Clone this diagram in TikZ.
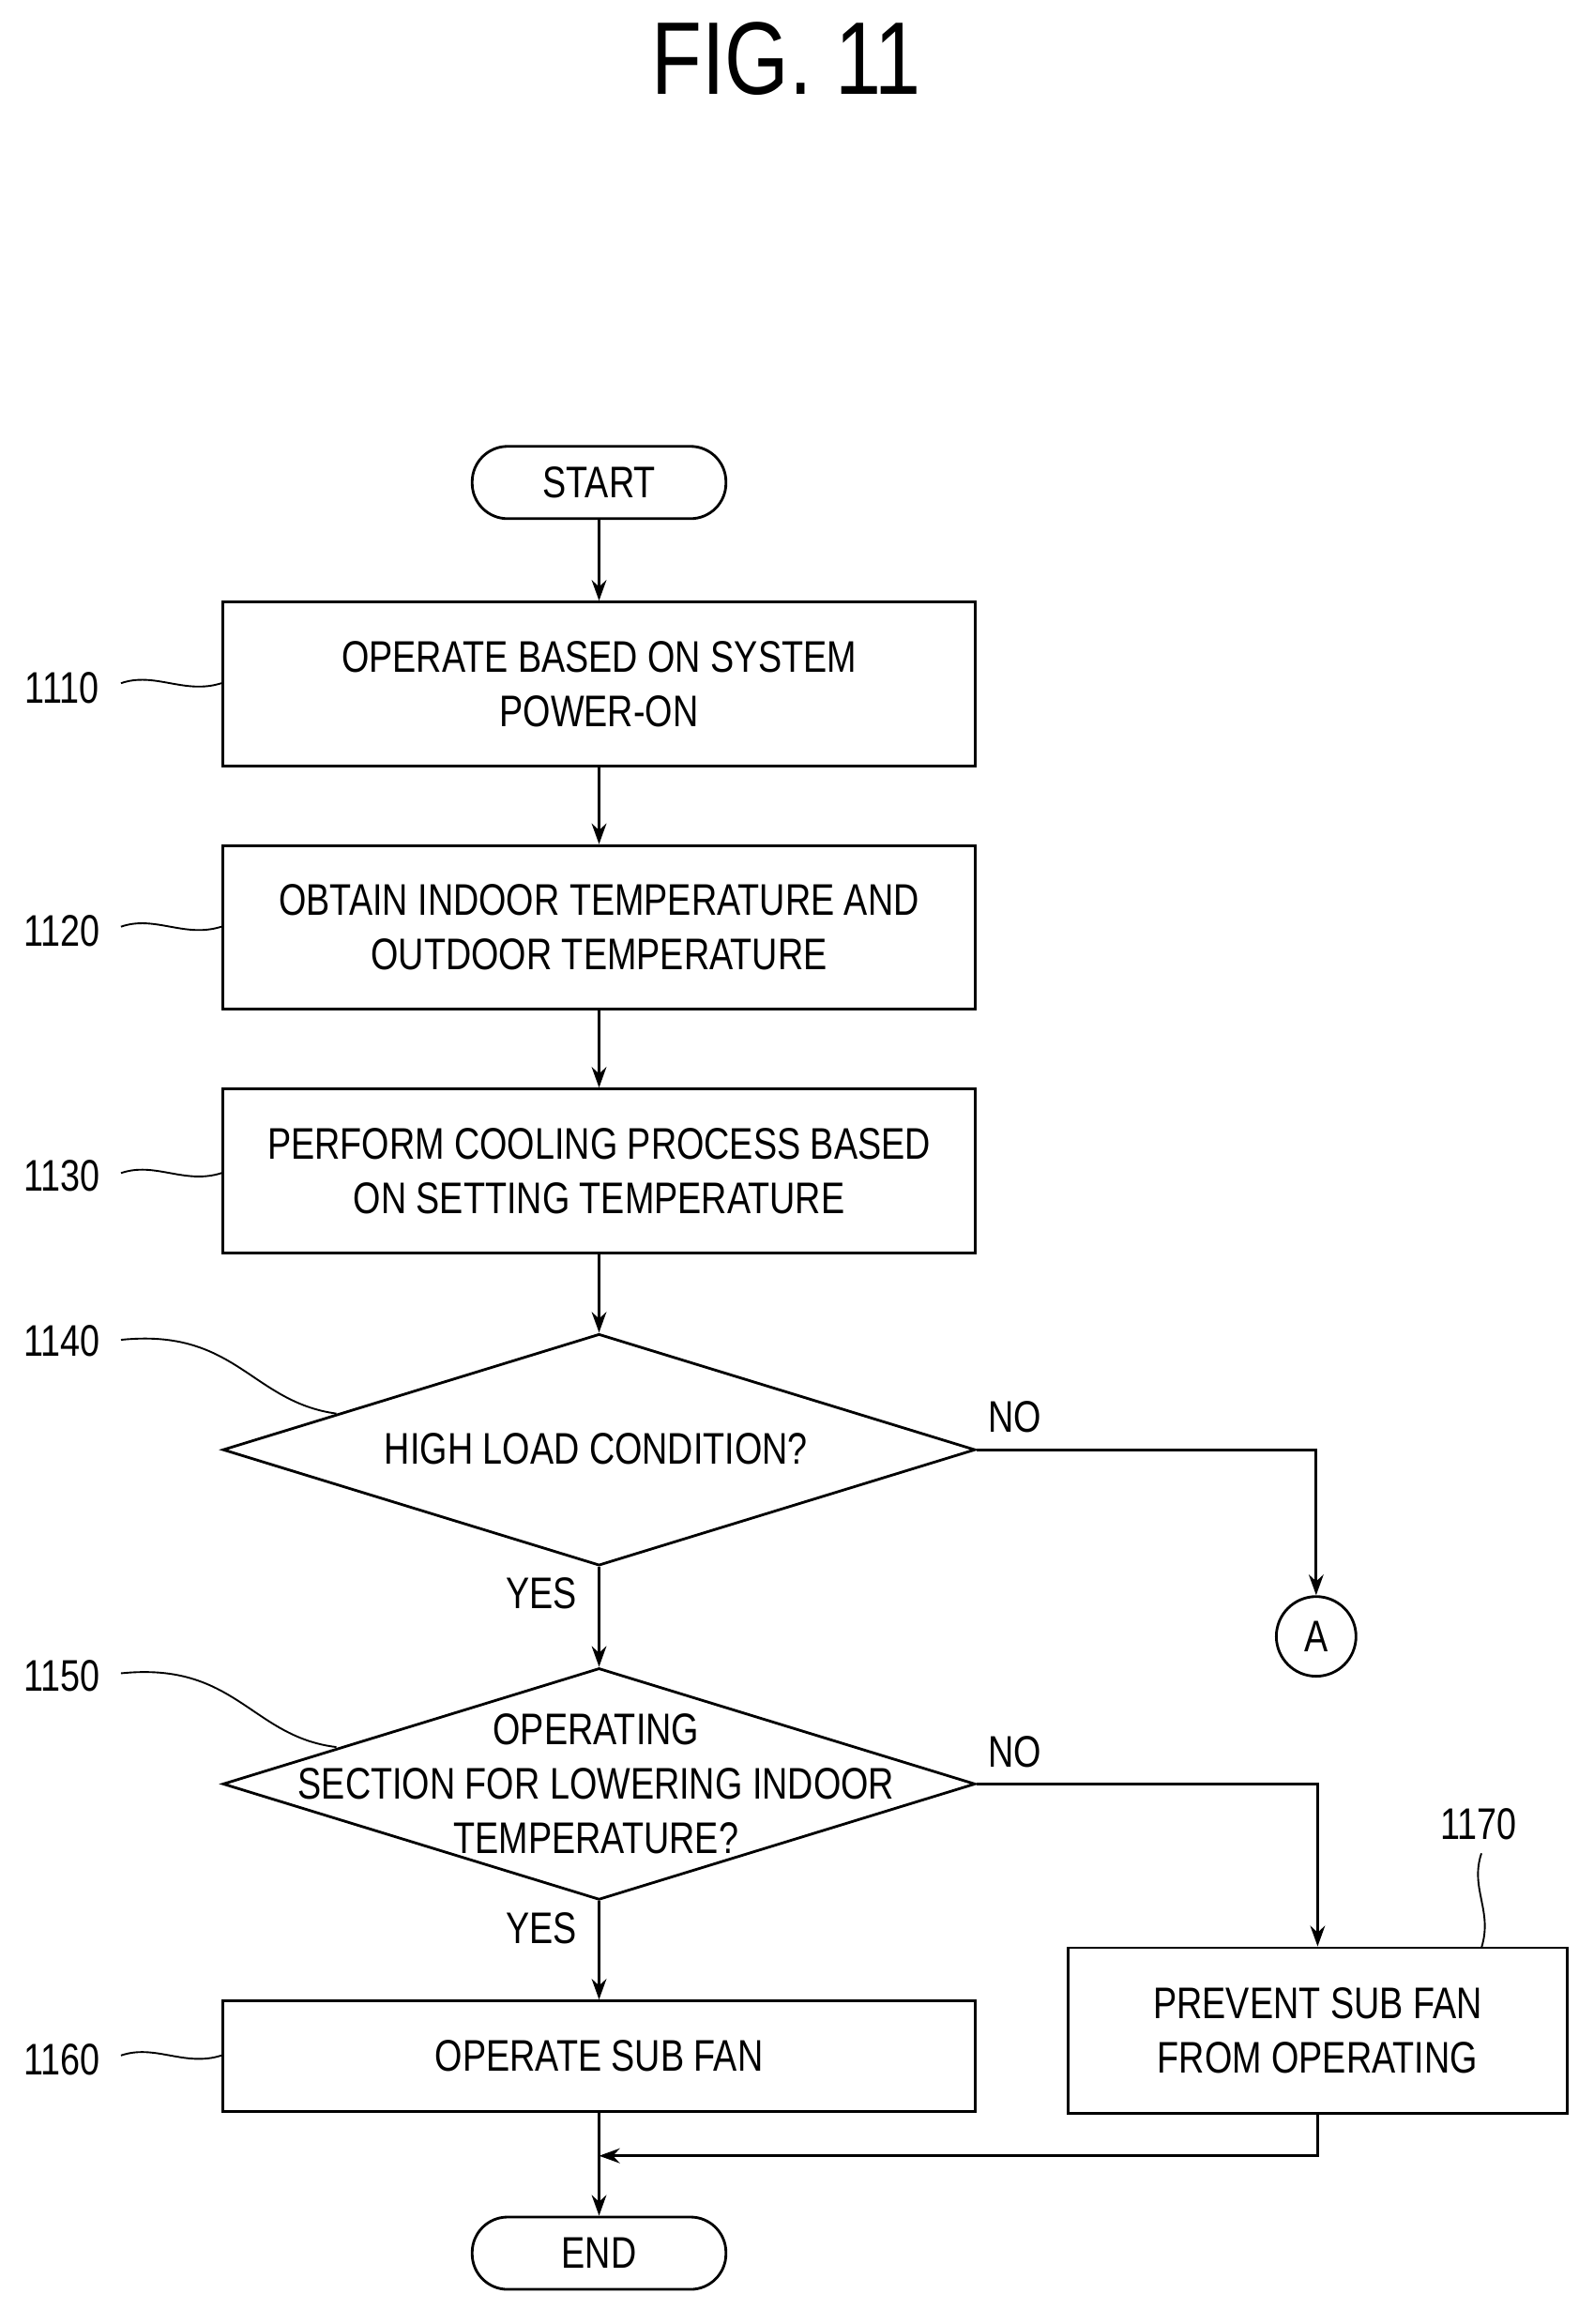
\documentclass[tikz,border=0pt]{standalone}
\usepackage{fontspec}
\setmainfont{Liberation Sans}[FakeStretch=0.8]
\usetikzlibrary{shapes.geometric,arrows.meta}
\begin{document}
\begin{tikzpicture}[x=1pt,y=-1pt,
  every node/.style={font=\fontsize{30}{37}\selectfont, align=center},
  box/.style={draw, line width=1.8pt, inner sep=0},
  term/.style={draw, line width=1.8pt, rounded corners=24pt, minimum width=172pt, minimum height=49pt},
  dia/.style={draw, diamond, line width=1.8pt, inner sep=0, minimum width=510pt, minimum height=157pt, aspect=3.2},
  arr/.style={line width=1.8pt, -{Stealth[length=14pt,width=10pt]}},
  sq/.style={line width=1.2pt},
  lab/.style={font=\fontsize{30}{36}\selectfont}]
\useasboundingbox (0,0) rectangle (1080,1575);
\node[font=\fontsize{70}{80}\selectfont] (title) at (533,40) {FIG. 11};
\node[term] (start) at (406,327) {START};
\node[box, minimum width=510pt, minimum height=111pt] (b1110) at (406,463.5) {OPERATE BASED ON SYSTEM\\POWER-ON};
\node[box, minimum width=510pt, minimum height=111pt] (b1120) at (406,628.5) {OBTAIN INDOOR TEMPERATURE AND\\OUTDOOR TEMPERATURE};
\node[box, minimum width=510pt, minimum height=111pt] (b1130) at (406,793.5) {PERFORM COOLING PROCESS BASED\\ON SETTING TEMPERATURE};
\node[dia] (d1140) at (406,982.5) {};
\node at (404,982) {HIGH LOAD CONDITION?};
\node[draw, circle, line width=1.8pt, minimum size=54pt, inner sep=0] (A) at (892,1109) {A};
\node[dia] (d1150) at (406,1209) {};
\node[font=\fontsize{30}{37}\selectfont] at (404,1209) {OPERATING\\SECTION FOR LOWERING INDOOR\\TEMPERATURE?};
\node[box, minimum width=510pt, minimum height=75pt] (b1160) at (406,1393.5) {OPERATE SUB FAN};
\node[box, minimum width=338pt, minimum height=112pt] (b1170) at (893,1376) {PREVENT SUB FAN\\FROM OPERATING};
\node[term] (end) at (406,1527) {END};
\coordinate (m) at (406,1461);
\draw[arr] (start) -- (b1110);
\draw[arr] (b1110) -- (b1120);
\draw[arr] (b1120) -- (b1130);
\draw[arr] (b1130) -- (d1140);
\draw[arr] (d1140) -- (d1150);
\draw[arr] (d1140.east) -| (A);
\draw[arr] (d1150) -- (b1160);
\draw[arr] (d1150.east) -| (b1170);
\draw[arr] (b1160) -- (end);
\draw[arr] (b1170.south) |- (m);
\node at (688,960) {NO};
\node at (688,1187) {NO};
\node at (367,1080) {YES};
\node at (367,1307) {YES};
\node[lab] (l1110) at (42,466) {1110};
\node[lab] (l1120) at (42,631) {1120};
\node[lab] (l1130) at (42,797) {1130};
\node[lab] (l1140) at (42,909) {1140};
\node[lab] (l1150) at (42,1136) {1150};
\node[lab] (l1160) at (42,1396) {1160};
\node[lab] (l1170) at (1002,1236) {1170};
\foreach \n/\y in {b1110/463, b1120/628, b1130/795, b1160/1393}{
  \draw[sq] (82,\y) .. controls (105,\y-8) and (125,\y+8) .. (\n.west |- 0,\y);
}
\draw[sq] (82,908) .. controls (160,900) and (170,950) .. (228,958);
\draw[sq] (82,1134) .. controls (160,1126) and (170,1177) .. (228,1184);
\draw[sq] (1004,1256) .. controls (996,1280) and (1012,1295) .. (1004,1320);
\end{tikzpicture}
\end{document}
